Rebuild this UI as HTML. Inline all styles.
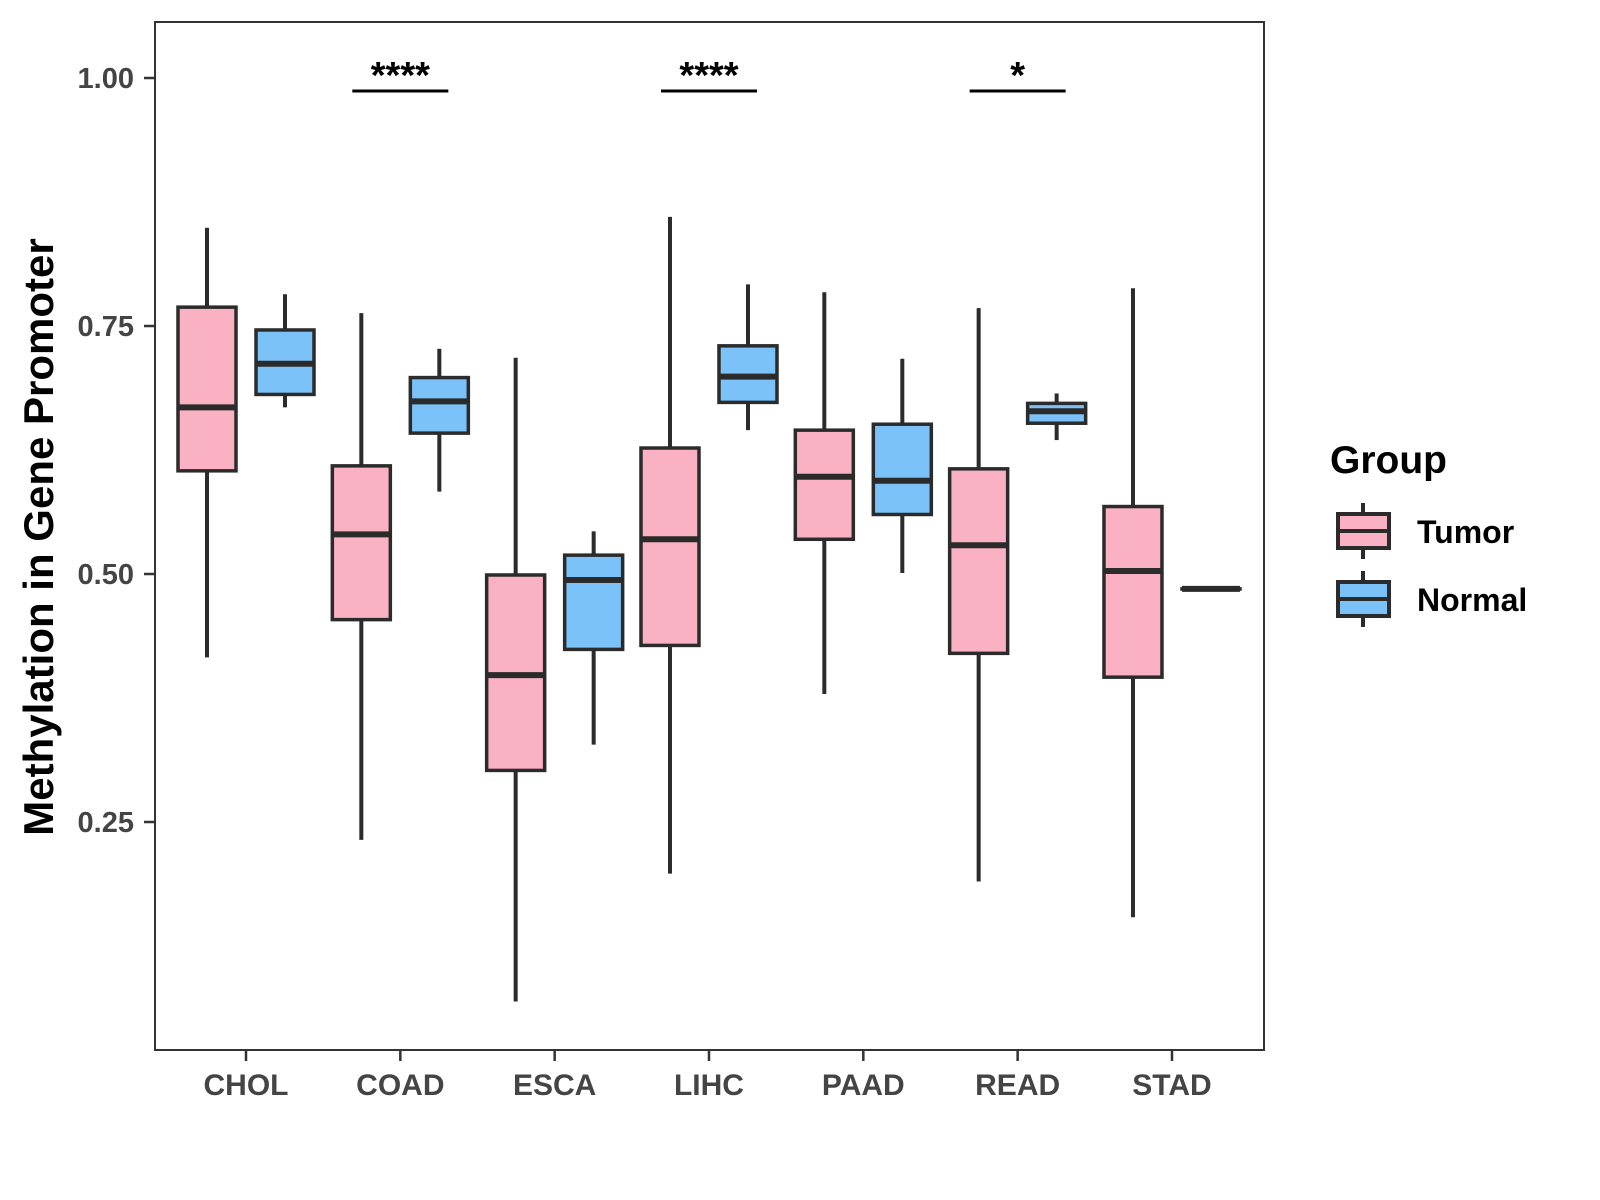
<!DOCTYPE html>
<html><head><meta charset="utf-8"><style>
html,body{margin:0;padding:0;background:#fff;}
svg{display:block;font-family:"Liberation Sans",Arial,sans-serif;}
</style></head><body>
<svg id="chart" width="1600" height="1200" viewBox="0 0 1600 1200">
<rect x="155" y="22" width="1109" height="1028" fill="#fff" stroke="#333" stroke-width="2"/>
<g id="marks"></g>
<g id="axes"></g>
<text transform="translate(53,537) rotate(-90)" text-anchor="middle" font-size="42" font-weight="bold" fill="#000">Methylation in Gene Promoter</text>
<g>
<text x="1330" y="473" font-size="39" font-weight="bold" fill="#000">Group</text>
<g>
<line x1="1363" y1="503" x2="1363" y2="559" stroke="#2b2b2b" stroke-width="4"/>
<rect x="1338" y="514" width="51" height="34" fill="#FBB1C4" stroke="#2b2b2b" stroke-width="4"/>
<line x1="1338" y1="531" x2="1389" y2="531" stroke="#2b2b2b" stroke-width="4"/>
<text x="1417" y="543" font-size="32" font-weight="bold" fill="#000">Tumor</text>
</g>
<g>
<line x1="1363" y1="571" x2="1363" y2="627" stroke="#2b2b2b" stroke-width="4"/>
<rect x="1338" y="582" width="51" height="34" fill="#7AC2F8" stroke="#2b2b2b" stroke-width="4"/>
<line x1="1338" y1="599" x2="1389" y2="599" stroke="#2b2b2b" stroke-width="4"/>
<text x="1417" y="611" font-size="32" font-weight="bold" fill="#000">Normal</text>
</g>
</g>
</svg>
<script>
const categories = ["CHOL","COAD","ESCA","LIHC","PAAD","READ","STAD"];
const tumorLow = [0.416,0.232,0.069,0.198,0.379,0.190,0.154];
const tumorQ1 = [0.604,0.454,0.302,0.428,0.535,0.420,0.396];
const tumorMed = [0.668,0.540,0.398,0.535,0.598,0.529,0.503];
const tumorQ3 = [0.769,0.609,0.499,0.627,0.645,0.606,0.568];
const tumorHigh = [0.849,0.763,0.718,0.860,0.784,0.768,0.788];
const normalLow = [0.668,0.583,0.328,0.645,0.501,0.635,0.485];
const normalQ1 = [0.681,0.642,0.424,0.673,0.560,0.652,0.485];
const normalMed = [0.712,0.674,0.494,0.699,0.594,0.664,0.485];
const normalQ3 = [0.746,0.698,0.519,0.730,0.651,0.672,0.485];
const normalHigh = [0.782,0.727,0.543,0.792,0.717,0.682,0.485];
const yTicks = [0.25,0.50,0.75,1.00];
const yTickLabels = ["0.25","0.50","0.75","1.00"];
const sigCategories = ["COAD","LIHC","READ"];
const sigLabels = ["****","****","*"];

const NS="http://www.w3.org/2000/svg";
function y(v){return 78+(1-v)*992;}
function x(i){return 246+i*154.33;}
function mk(tag,attrs,parent){const e=document.createElementNS(NS,tag);for(const k in attrs)e.setAttribute(k,attrs[k]);parent.appendChild(e);return e;}
const marks=document.getElementById('marks'), axes=document.getElementById('axes');
const S="#2b2b2b";
function box(cx,lo,q1,md,q3,hi,fill,name){
  const g=mk('g',{},marks);
  
  
  mk('line',{x1:cx,x2:cx,y1:y(hi),y2:y(q3),stroke:S,'stroke-width':4},g);
  mk('line',{x1:cx,x2:cx,y1:y(q1),y2:y(lo),stroke:S,'stroke-width':4},g);
  mk('rect',{x:cx-29,y:y(q3),width:58,height:Math.max(y(q1)-y(q3),0.1),fill:fill,stroke:S,'stroke-width':3.5},g);
  mk('line',{x1:cx-29,x2:cx+29,y1:y(md),y2:y(md),stroke:S,'stroke-width':6},g);
}
categories.forEach((c,i)=>{
  box(x(i)-39,tumorLow[i],tumorQ1[i],tumorMed[i],tumorQ3[i],tumorHigh[i],"#FBB1C4","box-tumor-"+c.toLowerCase());
  box(x(i)+39,normalLow[i],normalQ1[i],normalMed[i],normalQ3[i],normalHigh[i],"#7AC2F8","box-normal-"+c.toLowerCase());
  const t=mk('line',{x1:x(i),x2:x(i),y1:1050,y2:1061,stroke:"#333",'stroke-width':2.5},axes);
  
  
  const l=mk('text',{x:x(i),y:1095,'text-anchor':'middle','font-size':30,'font-weight':'bold',fill:'#444'},axes);
  l.textContent=c;
  
  
});
yTicks.forEach((v,i)=>{
  const t=mk('line',{x1:144,x2:155,y1:y(v),y2:y(v),stroke:"#333",'stroke-width':2.5},axes);
  
  
  const l=mk('text',{x:134,y:y(v)+10,'text-anchor':'end','font-size':29,'font-weight':'bold',fill:'#444'},axes);
  l.textContent=yTickLabels[i];
  
  
});
sigCategories.forEach((c,k)=>{
  const i=categories.indexOf(c);
  const ln=mk('line',{x1:x(i)-48,x2:x(i)+48,y1:91,y2:91,stroke:"#000",'stroke-width':3},marks);
  
  
  const t=mk('text',{x:x(i),y:88,'text-anchor':'middle','font-size':38,'font-weight':'bold',fill:'#000'},marks);
  t.textContent=sigLabels[k];
  
  
});
</script>
</body></html>
